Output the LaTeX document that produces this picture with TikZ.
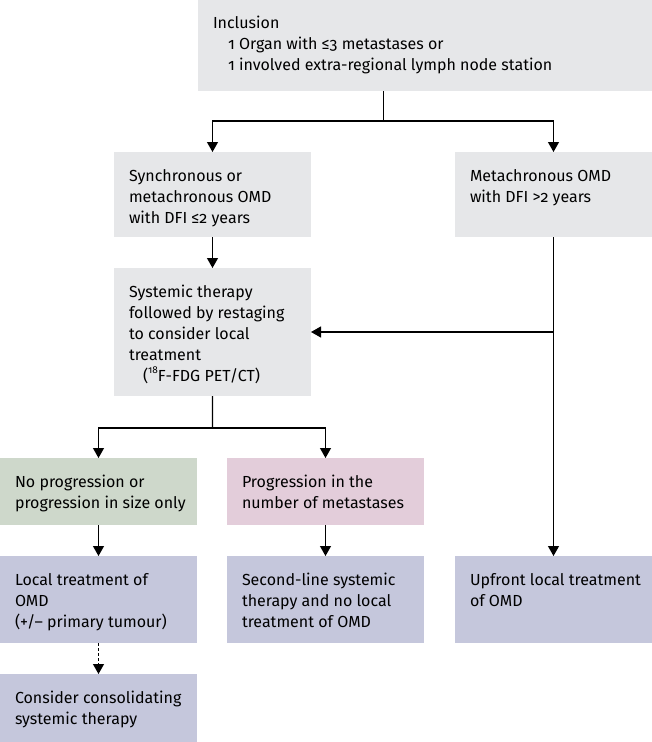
\documentclass[tikz,border=0pt]{standalone}
\usepackage{fontspec}
\setmainfont[Numbers=OldStyle]{Fira Sans}
\usetikzlibrary{arrows.meta}

\definecolor{boxgrey}{RGB}{230,231,233}
\definecolor{boxgreen}{RGB}{206,216,203}
\definecolor{boxpink}{RGB}{227,205,218}
\definecolor{boxblue}{RGB}{197,199,220}

% box text: width, height, lines
\newcommand{\boxtext}[3]{\parbox[t][#2][t]{#1}{\leftskip=15bp\rightskip=0pt plus 1fil
  \baselineskip=21bp\noindent\rule{0pt}{29bp}#3}}
\newcommand{\supnum}[1]{\raisebox{0.45em}{\fontsize{10bp}{10bp}\selectfont #1}}

\tikzset{
  box/.style={anchor=north west, fill=#1, inner sep=0pt, outer sep=0pt,
    font=\fontsize{16bp}{21bp}\selectfont},
  conn/.style={line width=1.2bp, black},
  arr/.style={conn, -{Triangle[width=11bp,length=10bp]}},
}

\begin{document}
\begin{tikzpicture}[x=1bp, y=-1bp]
  \useasboundingbox (0,0) rectangle (652,742);

  % boxes
  \node[box=boxgrey] (incl) at (198,0) {\boxtext{454bp}{91bp}{Inclusion\\
    \hspace*{15bp}1 Organ with ≤3 metastases or\\
    \hspace*{15bp}1 involved extra-regional lymph node station}};
  \node[box=boxgrey] (sync) at (114,152) {\boxtext{197bp}{85bp}{Synchronous or\\
    metachronous OMD\\with DFI ≤2 years}};
  \node[box=boxgrey] (meta) at (455,152) {\boxtext{197bp}{85bp}{Metachronous OMD\\
    with DFI >2 years}};
  \node[box=boxgrey] (sys) at (114,268) {\boxtext{197bp}{128bp}{Systemic therapy\\
    followed by restaging\\to consider local\\treatment\\
    \hspace*{14bp}(\supnum{18}F-FDG PET/CT)}};
  \node[box=boxgreen] (noprog) at (0,458) {\boxtext{197bp}{67bp}{No progression or\\
    progression in size only}};
  \node[box=boxpink] (prog) at (227,458) {\boxtext{197bp}{67bp}{Progression in the\\
    number of metastases}};
  \node[box=boxblue] (local) at (0,556) {\boxtext{197bp}{87bp}{Local treatment of\\
    OMD\\(+/– primary tumour)}};
  \node[box=boxblue] (second) at (227,556) {\boxtext{197bp}{87bp}{Second-line systemic\\
    therapy and no local\\treatment of OMD}};
  \node[box=boxblue] (upfront) at (455,556) {\boxtext{197bp}{87bp}{Upfront local treatment\\
    of OMD}};
  \node[box=boxblue] (consol) at (0,674) {\boxtext{197bp}{68bp}{Consider consolidating\\
    systemic therapy}};

  % split points
  \coordinate (split1) at (383.5,121);
  \coordinate (split2) at (212.5,428);
  \coordinate (join) at (meta.south |- sys.east);

  % connectors
  \draw[conn] (split1 |- incl.south) -- (split1);
  \draw[arr] (split1) -| (sync.north);
  \draw[arr] (split1) -| (meta.north);
  \draw[arr] (sync) -- (sys);
  \draw[arr] (meta) -- (upfront);
  \draw[arr] (join) -- (sys.east);
  \draw[conn] (sys) -- (split2);
  \draw[arr] (split2) -| (noprog.north);
  \draw[arr] (split2) -| (prog.north);
  \draw[arr] (noprog) -- (local);
  \draw[arr] (prog) -- (second);
  \draw[arr, dash pattern=on 3bp off 2bp] (local) -- (consol);
\end{tikzpicture}
\end{document}
